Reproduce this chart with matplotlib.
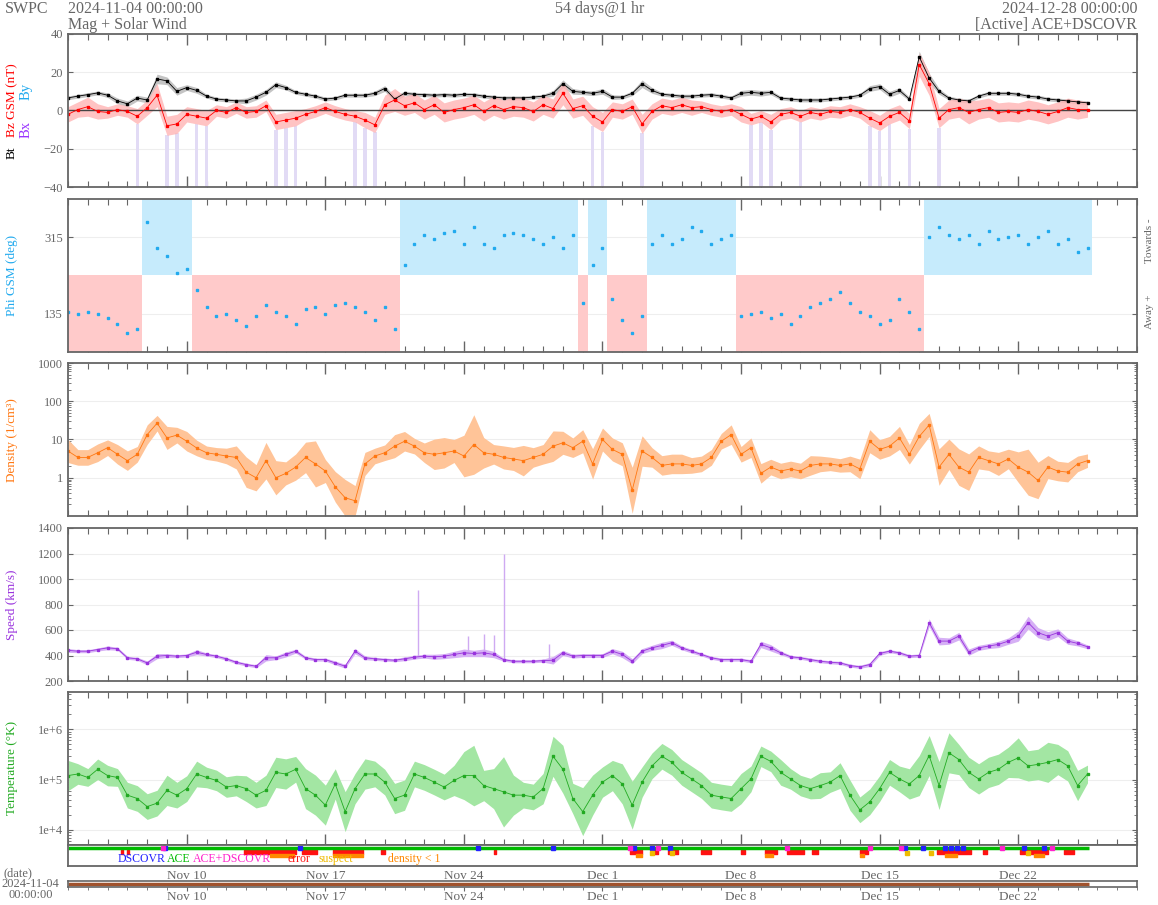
import numpy as np
import matplotlib
matplotlib.use('Agg')
import matplotlib.pyplot as plt
from matplotlib.ticker import LogLocator, NullFormatter

plt.rcParams['font.family'] = ['Liberation Serif', 'DejaVu Serif']
GRAY = '#666666'

# ---- data: 12-hour samples starting 2024-11-04 00:00 (x axis in days) ----
day = np.arange(0, 52, 0.5)

bt = [6.6, 7.5, 8.3, 9.2, 8.0, 5.0, 3.5, 6.5,
      5.5, 16.5, 15.5, 10.0, 12.0, 10.5, 7.5, 6.0,
      5.5, 5.0, 5.0, 7.0, 9.5, 13.5, 12.0, 9.5,
      8.5, 7.5, 6.0, 6.5, 8.0, 8.0, 8.0, 9.0,
      11.5, 6.0, 9.0, 8.5, 8.3, 8.0, 8.3, 8.0,
      8.5, 8.3, 7.5, 7.0, 6.6, 6.6, 6.6, 7.0,
      7.5, 9.0, 14.0, 10.0, 9.5, 9.0, 10.0, 7.0,
      7.0, 9.0, 14.0, 10.5, 8.5, 8.0, 7.5, 7.5,
      8.0, 8.3, 7.5, 6.6, 9.0, 9.5, 9.0, 9.5,
      6.5, 6.0, 5.5, 5.5, 5.5, 6.0, 6.5, 7.0,
      8.0, 11.5, 12.5, 8.5, 10.5, 6.0, 28.0, 17.0,
      10.0, 6.5, 5.5, 5.0, 7.5, 9.0, 9.0, 9.0,
      8.5, 7.5, 7.0, 6.0, 5.5, 5.0, 4.5, 4.0]
bt_spread = [1.0, 1.0, 1.0, 1.0, 1.2, 1.5, 1.5, 1.5,
             1.5, 2.5, 2.0, 2.0, 1.5, 1.5, 1.0, 1.0,
             1.0, 1.0, 1.5, 1.5, 1.5, 1.5, 1.2, 1.0,
             1.0, 1.0, 1.0, 1.0, 1.0, 1.0, 1.0, 1.2,
             1.5, 1.5, 1.2, 1.0, 1.0, 1.0, 1.0, 1.0,
             1.0, 1.0, 1.0, 1.0, 1.0, 1.0, 1.0, 1.0,
             1.0, 1.5, 2.0, 1.5, 1.2, 1.2, 1.5, 1.2,
             1.0, 1.2, 2.0, 1.5, 1.0, 1.0, 1.0, 1.0,
             1.0, 1.0, 1.0, 1.0, 1.5, 1.5, 1.5, 1.2,
             1.0, 1.0, 1.0, 1.0, 1.0, 1.0, 1.0, 1.0,
             1.0, 1.5, 1.5, 1.5, 1.5, 1.0, 3.0, 2.5,
             1.5, 1.0, 1.0, 1.0, 1.0, 1.0, 1.0, 1.0,
             1.0, 1.0, 1.0, 1.0, 1.0, 1.0, 1.0, 1.0]

bz = [-2, 0.5, 2, -0.5, -1, 0.5, -0.5, -3,
      1.5, 8, -8, -7, -2, -3, -4, 0,
      -1, 1.5, -1, -0.5, 2.5, -6, -5, -4,
      -2, -0.5, 1.5, -0.5, -2, -3, -5, -7.5,
      3, 5.5, 2.5, 4, 0.5, 3, -1, 0.5,
      1.5, 3, -0.5, 2.5, 0.5, 2, 1.5, -0.5,
      3, 1, 9, 1, 2.5, -3, -6, 0.5,
      -0.5, 2, -7, -0.5, 2.5, 1.5, 3, 1.5,
      2, 0.5, -0.5, 0.5, -2, -4.5, -3, -6,
      -2, -1, -3, -1, -2, -0.5, -1, 0.5,
      -1, -4, -6.5, -3, -1, -5.5, 24, 14,
      -4, 0.5, 1.5, -1, 0.5, 1.5, -1, -0.5,
      -1, 0.5, -0.5, -2, -0.5, 1.5, 0.5, 0.5]
bz_spread = [4, 4, 5, 4, 3, 3, 3, 4,
             4, 6, 5, 5, 4, 4, 4, 3,
             3, 3, 3, 3, 3, 4, 4, 4,
             3, 3, 3, 3, 3, 3, 4, 4,
             5, 6, 5, 5, 5, 5, 5, 5,
             5, 5, 5, 5, 5, 5, 5, 5,
             5, 5, 6, 5, 5, 5, 5, 4,
             4, 4, 5, 4, 4, 4, 4, 4,
             3, 3, 3, 3, 4, 3, 3, 4,
             3, 3, 3, 3, 3, 3, 3, 3,
             3, 4, 4, 4, 4, 4, 6, 6,
             5, 5, 5, 6, 5, 5, 5, 5,
             5, 5, 5, 5, 5, 5, 5, 4]

phi = [140, 135, 140, 135, 125, 110, 90, 100,
       350, 290, 270, 230, 240, 190, 150, 130,
       135, 120, 105, 130, 155, 140, 130, 110,
       145, 150, 135, 155, 160, 150, 140, 120,
       150, 100, 250, 300, 320, 310, 325, 330,
       300, 340, 300, 290, 320, 325, 320, 310,
       300, 315, 290, 320, 160, 250, 290, 170,
       120, 90, 130, 300, 320, 300, 310, 340,
       330, 300, 310, 320, 130, 135, 140, 125,
       135, 110, 130, 150, 160, 170, 185, 160,
       140, 130, 110, 120, 170, 140, 100, 315,
       340, 320, 310, 320, 300, 330, 310, 315,
       320, 300, 315, 330, 300, 310, 280, 290]

density = [5, 3.4, 3.4, 4.5, 6.1, 4.1, 2.8, 4.1,
           13.4, 26.7, 11, 13, 9, 6, 4.5, 4.1,
           3.7, 3.4, 1.4, 1.0, 2.8, 1.0, 1.3, 1.9,
           3.4, 2.3, 1.5, 0.58, 0.3, 0.25, 2.3, 3.7,
           4.5, 6.7, 9, 6.7, 4.5, 4.1, 4.5, 5,
           3.7, 7.4, 4.5, 4.1, 3.4, 3.1, 2.8, 3.4,
           4.1, 6.7, 8.2, 6.1, 9, 2.3, 10, 5.5,
           4.1, 0.47, 5, 3.4, 2.1, 2.3, 2.3, 2.1,
           2.3, 3.4, 9, 13.4, 4.1, 6.1, 1.3, 1.9,
           1.5, 1.7, 1.5, 2.1, 2.3, 2.3, 2.1, 2.3,
           1.7, 9, 5.5, 6.7, 11, 4.1, 12, 24,
           1.9, 4.1, 1.9, 1.4, 3.4, 2.8, 2.3, 3.1,
           1.9, 1.4, 0.85, 1.9, 1.5, 1.4, 2.3, 2.8]
density_factor = [2.0, 1.6, 1.6, 1.7, 1.6, 1.8, 1.8, 1.6,
                  1.8, 1.6, 2.0, 1.6, 1.8, 1.6, 1.5, 1.5,
                  1.6, 2.0, 2.5, 2.2, 3.0, 2.8, 2.0, 2.2,
                  2.5, 4.0, 2.0, 2.5, 3.0, 2.5, 2.0, 1.6,
                  1.6, 2.0, 1.8, 1.6, 1.8, 2.5, 2.5, 2.0,
                  3.5, 6.0, 2.5, 1.8, 2.0, 2.0, 2.5, 1.8,
                  1.8, 2.5, 2.0, 1.8, 2.0, 2.5, 2.0, 2.0,
                  2.0, 4.0, 2.5, 1.8, 1.8, 1.8, 1.8, 1.6,
                  1.6, 1.6, 1.6, 1.8, 1.6, 1.8, 1.8, 1.6,
                  1.6, 1.6, 1.6, 1.8, 1.6, 1.5, 1.5, 1.6,
                  1.8, 2.0, 1.8, 1.8, 2.0, 1.8, 2.2, 2.0,
                  3.0, 2.5, 3.0, 3.0, 2.0, 1.8, 2.0, 1.8,
                  2.5, 4.0, 3.0, 2.0, 1.8, 1.8, 1.6, 1.5]

speed = [440, 434, 434, 447, 460, 453, 382, 374,
         342, 395, 400, 395, 400, 426, 408, 395,
         374, 347, 329, 316, 382, 382, 408, 434,
         382, 368, 368, 342, 316, 434, 382, 374,
         368, 363, 374, 387, 395, 390, 395, 408,
         421, 416, 421, 408, 368, 355, 355, 355,
         360, 363, 421, 395, 400, 400, 400, 434,
         408, 355, 434, 460, 479, 500, 460, 434,
         408, 382, 368, 368, 368, 355, 487, 460,
         421, 390, 382, 368, 355, 347, 342, 321,
         311, 329, 416, 434, 421, 395, 400, 658,
         513, 513, 552, 426, 460, 474, 487, 513,
         552, 658, 579, 552, 579, 513, 495, 468]
speed_spread = [15, 12, 12, 12, 15, 12, 12, 12,
                15, 20, 15, 12, 12, 20, 12, 12,
                12, 12, 12, 12, 25, 15, 20, 15,
                12, 12, 12, 15, 15, 20, 15, 12,
                12, 12, 15, 15, 15, 20, 20, 25,
                30, 25, 30, 25, 12, 12, 12, 12,
                12, 30, 20, 15, 15, 15, 15, 20,
                25, 20, 20, 20, 25, 20, 15, 15,
                12, 12, 12, 12, 12, 12, 25, 25,
                15, 12, 12, 12, 12, 12, 12, 12,
                12, 15, 15, 12, 12, 12, 12, 30,
                30, 25, 30, 25, 20, 20, 25, 25,
                40, 50, 40, 35, 30, 25, 20, 15]
speed_spike_days = [17.7, 20.2, 21.0, 21.5, 22.0, 24.3]
speed_spike_tops = [910, 550, 565, 560, 1200, 490]

temp_k = [120, 129, 110, 160, 120, 110, 49, 42,
          29, 34, 61, 49, 66, 129, 110, 96,
          71, 76, 66, 49, 61, 139, 129, 160,
          66, 49, 31, 82, 23, 66, 129, 129,
          89, 42, 49, 129, 110, 89, 71, 96,
          120, 120, 76, 66, 57, 49, 49, 45,
          66, 290, 160, 42, 23, 49, 89, 120,
          82, 31, 89, 187, 290, 220, 139, 103,
          76, 49, 45, 42, 66, 103, 290, 230,
          139, 103, 76, 66, 76, 89, 120, 49,
          25, 36, 66, 139, 103, 82, 120, 300,
          76, 340, 250, 139, 103, 139, 160, 220,
          270, 187, 200, 220, 250, 187, 76, 129]
temp_factor = [2.0, 1.6, 1.5, 1.6, 1.6, 1.5, 1.8, 1.8,
               1.8, 1.8, 2.0, 1.8, 1.8, 1.8, 1.6, 1.6,
               1.6, 1.6, 1.8, 1.8, 2.0, 2.0, 2.0, 1.8,
               2.5, 2.5, 2.5, 2.0, 2.5, 2.0, 2.0, 1.8,
               1.8, 2.0, 2.0, 1.8, 1.8, 1.8, 1.8, 2.0,
               3.0, 4.0, 2.0, 2.5, 5.0, 2.5, 1.8, 1.8,
               2.0, 2.5, 3.0, 2.0, 3.0, 2.5, 2.0, 2.0,
               2.5, 3.0, 2.0, 1.8, 1.8, 1.8, 1.8, 1.8,
               1.8, 1.8, 1.8, 1.8, 2.0, 1.8, 1.6, 1.6,
               1.8, 1.6, 1.6, 1.6, 1.8, 1.6, 1.8, 2.0,
               1.8, 1.8, 1.8, 1.8, 1.8, 2.0, 2.5, 2.5,
               3.0, 2.5, 2.0, 2.0, 2.0, 2.0, 2.0, 2.0,
               2.5, 2.0, 2.0, 2.5, 2.0, 2.0, 2.0, 1.5]

# source / quality strip
data_end = 51.6
dscovr_days = [4.9, 11.7, 20.7, 24.5, 28.6, 29.5, 30.4, 42.3, 43.2, 44.3, 44.6, 44.9, 45.2, 48.3, 49.3]
both_days = [4.8, 28.4, 29.8, 36.3, 40.5, 42.1, 47.2, 49.7]
error_spans = [(2.7, 0.1), (3.0, 0.1), (8.9, 1.2), (10.1, 1.4), (11.8, 0.8), (13.4, 1.5),
               (15.8, 0.2), (21.5, 0.1), (28.4, 0.6), (29.6, 0.2), (30.3, 0.5), (32.0, 0.5),
               (34.0, 0.2), (35.2, 0.6), (36.3, 0.9), (37.6, 0.3), (40.0, 0.4), (43.9, 1.7),
               (46.2, 0.2), (48.1, 1.4), (50.3, 0.5)]
low_density_spans = [(10.2, 1.2), (13.4, 1.5), (28.7, 0.3), (35.2, 0.4), (40.0, 0.2),
                     (44.3, 0.6), (48.8, 0.5)]
suspect_days = [29.5, 30.5, 42.4, 43.6, 48.5]

major_days = [6, 13, 20, 27, 34, 41, 48]
date_labels = ['Nov 10', 'Nov 17', 'Nov 24', 'Dec 1', 'Dec 8', 'Dec 15', 'Dec 22']

bt = np.array(bt); bt_spread = np.array(bt_spread)
bz = np.array(bz); bz_spread = np.array(bz_spread)
phi = np.array(phi)
density = np.array(density); density_factor = np.array(density_factor)
speed = np.array(speed); speed_spread = np.array(speed_spread)
temp = np.array(temp_k) * 1e3; temp_factor = np.array(temp_factor)

W, H = 1158, 905
fig = plt.figure(figsize=(W / 100, H / 100), dpi=100)


def px_axes(top, bottom):
    return fig.add_axes([68 / W, 1 - bottom / H, 1069 / W, (bottom - top) / H])


def style_time(ax, labels=False):
    ax.set_xlim(0, 54)
    ax.set_xticks(major_days)
    ax.set_xticks(np.arange(0, 55), minor=True)
    ax.tick_params(axis='x', which='major', direction='in', length=8, width=1,
                   top=True, bottom=True, color=GRAY)
    ax.tick_params(axis='x', which='minor', direction='in', length=4, width=0.8,
                   top=True, bottom=True, color=GRAY)
    if labels:
        ax.set_xticklabels(date_labels)
    else:
        ax.set_xticklabels([])
    ax.tick_params(axis='y', which='both', direction='in', left=True, right=True,
                   color=GRAY, labelcolor=GRAY, labelsize=9)
    for s in ax.spines.values():
        s.set_color(GRAY)
        s.set_linewidth(1.3)
    ax.grid(axis='y', which='major', color='#eeeeee', lw=0.8)
    ax.set_axisbelow(True)


def ylabel(ypix, text, color, x=12, size=9.5):
    fig.text(x / W, 1 - ypix / H, text, color=color, rotation=90,
             ha='center', va='center', fontsize=size)


# ---- header ----
fig.text(5 / W, 1 - 9 / H, 'SWPC', color=GRAY, fontsize=11.5, va='center')
fig.text(68 / W, 1 - 9 / H, '2024-11-04 00:00:00', color=GRAY, fontsize=11.5, va='center')
fig.text(68 / W, 1 - 25 / H, 'Mag + Solar Wind', color=GRAY, fontsize=11.5, va='center')
fig.text(600 / W, 1 - 9 / H, '54 days@1 hr', color=GRAY, fontsize=11.5, va='center', ha='center')
fig.text(1137 / W, 1 - 9 / H, '2024-12-28 00:00:00', color=GRAY, fontsize=11.5, va='center', ha='right')
fig.text(1137 / W, 1 - 25 / H, '[Active] ACE+DSCOVR', color=GRAY, fontsize=11.5, va='center', ha='right')

# ---- Bt / Bz ----
ax1 = px_axes(34, 187)
south = bz <= -3
ax1.bar(day[south], (bz - bz_spread)[south] + 40, bottom=-40, width=0.18,
        color='#e2dbf5', lw=0)
ax1.fill_between(day, bt - bt_spread, bt + bt_spread, color='#c4c4c4', lw=0)
ax1.fill_between(day, bz - bz_spread, bz + bz_spread, color='#ffb4b4', lw=0, alpha=0.8)
ax1.axhline(0, color='#444444', lw=1)
ax1.plot(day, bt, '-', color='black', lw=0.6, marker='s', ms=1.6)
ax1.plot(day, bz, '-', color='red', lw=0.6, marker='s', ms=1.6)
ax1.set_ylim(-40, 40)
ax1.set_yticks([-40, -20, 0, 20, 40])
style_time(ax1)
ylabel(153, 'Bt', 'black')
ylabel(100, 'Bz GSM (nT)', 'red')
ylabel(129, 'Bx', '#9933ff', x=26, size=10.5)
ylabel(91, 'By', '#22aaee', x=26, size=10.5)

# ---- Phi ----
ax2 = px_axes(199, 352)
away = phi < 225
ax2.bar(day[away], 180, bottom=45, width=0.5, color='#ffcaca', lw=0)
ax2.bar(day[~away], 180, bottom=225, width=0.5, color='#c6ebfc', lw=0)
ax2.plot(day, phi, 's', color='#22aaee', ms=1.8)
ax2.set_ylim(45, 405)
ax2.set_yticks([135, 315])
style_time(ax2)
ylabel(275, 'Phi GSM (deg)', '#22aaee')
fig.text(1150 / W, 1 - 241 / H, 'Towards -', color=GRAY, rotation=90, ha='center', va='center', fontsize=8)
fig.text(1150 / W, 1 - 312 / H, 'Away +', color=GRAY, rotation=90, ha='center', va='center', fontsize=8)

# ---- Density ----
ax3 = px_axes(363, 516)
ax3.fill_between(day, density / density_factor, density * density_factor, color='#ffc498', lw=0)
ax3.plot(day, density, '-', color='#ff7711', lw=0.6, marker='s', ms=1.6)
ax3.set_yscale('log')
ax3.set_ylim(0.1, 1000)
ax3.set_yticks([1, 10, 100, 1000])
ax3.set_yticklabels(['1', '10', '100', '1000'])
ax3.yaxis.set_minor_locator(LogLocator(base=10, subs=np.arange(2, 10)))
ax3.yaxis.set_minor_formatter(NullFormatter())
style_time(ax3)
ylabel(440, 'Density (1/cm\u00b3)', '#ff7711')

# ---- Speed ----
ax4 = px_axes(528, 681)
ax4.fill_between(day, speed - speed_spread, speed + speed_spread, color='#d6b0f5', lw=0)
ax4.vlines(speed_spike_days, np.interp(speed_spike_days, day, speed), speed_spike_tops,
           color='#cfaaf2', lw=1)
ax4.plot(day, speed, '-', color='#9933dd', lw=0.6, marker='s', ms=1.6)
ax4.set_ylim(200, 1400)
ax4.set_yticks(np.arange(200, 1401, 200))
style_time(ax4)
ylabel(605, 'Speed (km/s)', '#9933dd')

# ---- Temperature ----
ax5 = px_axes(692, 845)
ax5.fill_between(day, temp / temp_factor, temp * temp_factor, color='#a3e6a3', lw=0)
ax5.plot(day, temp, '-', color='#22aa22', lw=0.6, marker='s', ms=1.6)
ax5.set_yscale('log')
ax5.set_ylim(5e3, 5.5e6)
ax5.set_yticks([1e4, 1e5, 1e6])
ax5.set_yticklabels(['1e+4', '1e+5', '1e+6'])
ax5.yaxis.set_minor_locator(LogLocator(base=10, subs=np.arange(2, 10)))
ax5.yaxis.set_minor_formatter(NullFormatter())
style_time(ax5)
ylabel(768, 'Temperature (\u00b0K)', '#22aa22')

# ---- source / quality strip ----
ax6 = px_axes(845, 866)
ax6.set_ylim(0, 21)
ax6.hlines(18, 0, data_end, color='#00bb00', lw=2.5)
ax6.plot(dscovr_days, [18] * len(dscovr_days), 's', color='#2222ff', ms=3)
ax6.plot(both_days, [18] * len(both_days), 's', color='#ff22cc', ms=2.5)
ax6.broken_barh(error_spans, (12.5, 3.5), color='#ff1111')
ax6.broken_barh(low_density_spans, (9.5, 3), color='#ff8800')
ax6.plot(suspect_days, [13.5] * len(suspect_days), 's', color='#eebb00', ms=3)
for x0, txt, col in [(118, 'DSCOVR', '#2222ff'), (167, 'ACE', '#00bb00'),
                     (193, 'ACE+DSCOVR', '#ff22cc'), (288, 'error', '#ff1111'),
                     (319, 'suspect', '#eebb00'), (388, 'density < 1', '#ff8800')]:
    ax6.text((x0 - 68) / 19.8, 7, txt, color=col, fontsize=8.5, va='center', ha='left')
ax6.set_xlim(0, 54)
ax6.set_yticks([])
ax6.set_xticks(major_days)
ax6.set_xticklabels(date_labels)
ax6.tick_params(axis='x', length=0, pad=3, labelcolor=GRAY, labelsize=9.5)
for s in ax6.spines.values():
    s.set_color(GRAY)
    s.set_linewidth(1.3)

# ---- bottom time line ----
ax7 = px_axes(881, 887)
ax7.hlines(0.5, 0, data_end, color='#a0522d', lw=2.5)
ax7.set_ylim(0, 1)
ax7.set_xlim(0, 54)
ax7.set_yticks([])
ax7.set_xticks(major_days)
ax7.set_xticks(np.arange(0, 55), minor=True)
ax7.set_xticklabels(date_labels)
ax7.tick_params(axis='x', which='major', direction='out', length=3, color=GRAY,
                labelcolor=GRAY, labelsize=9.5, pad=0)
ax7.tick_params(axis='x', which='minor', direction='out', length=2, color=GRAY)
for s in ax7.spines.values():
    s.set_color(GRAY)
    s.set_linewidth(1.2)
fig.text(3 / W, 1 - 873 / H, '(date)', color=GRAY, fontsize=9, va='center')
fig.text(30 / W, 1 - 884 / H, '2024-11-04', color=GRAY, fontsize=9, va='center', ha='center')
fig.text(31 / W, 1 - 895 / H, '00:00:00', color=GRAY, fontsize=9, va='center', ha='center')

fig.savefig('out.png', dpi=100, facecolor='white')
